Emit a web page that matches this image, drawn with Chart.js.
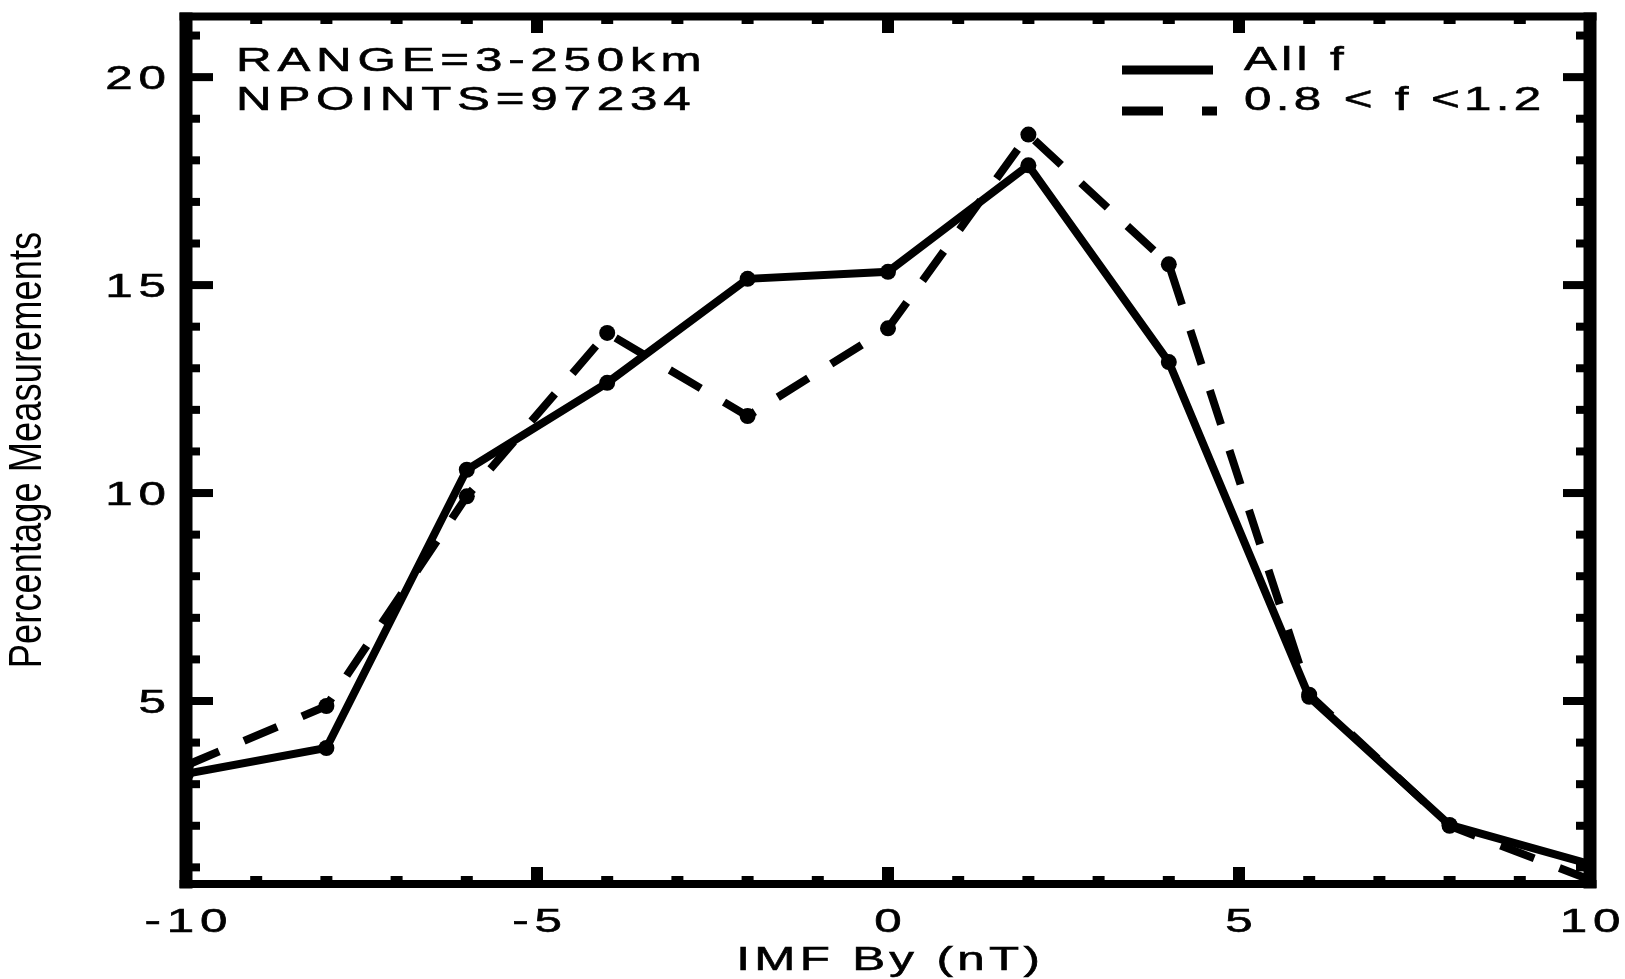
<!DOCTYPE html>
<html>
<head>
<meta charset="utf-8">
<script src="https://cdn.jsdelivr.net/npm/chart.js@4.4.1/dist/chart.umd.min.js"></script>
<style>
    html, body { margin: 0; padding: 0; background: #fff; }
    canvas { display: block; }
</style>
</head>
<body>
<canvas id="grafica-imf" width="1625" height="979"></canvas>
<script>
// Bins de IMF By (nT)
const byBins = [-10, -8, -6, -4, -2, 0, 2, 4, 6, 8, 10];
// Porcentaje de medidas, todas las frecuencias
const allF = [3.25, 3.87, 10.56, 12.65, 15.15, 15.32, 17.88, 13.15, 5.1, 2.02, 1.08];
// Porcentaje de medidas, 0.8 < f < 1.2
const midF = [3.45, 4.88, 9.92, 13.85, 11.85, 13.96, 18.62, 15.5, 5.15, 2.0, 0.7];

const xTickLabels = [-10, -5, 0, 5, 10];
const yTickLabels = [5, 10, 15, 20];
const seriesNames = ['All f', '0.8 < f <1.2'];
const infoLines = ['RANGE=3-250km', 'NPOINTS=97234'];
const xTitle = 'IMF By (nT)';
const yTitle = 'Percentage Measurements';

const FONT = "'Liberation Sans', Arial, Helvetica, sans-serif";
const DASH = [36, 27];

// texto ancho tipo IDL: letras estiradas y con espaciado
function wideText(ctx, str, x, y, opt = {}) {
    const size = opt.size || 34, sx = opt.sx || 1.45, gap = opt.gap ?? 4;
    ctx.save();
    ctx.font = size + 'px ' + FONT;
    ctx.fillStyle = '#000';
    ctx.strokeStyle = '#000';
    ctx.lineWidth = 0.6;
    ctx.textBaseline = 'alphabetic';
    ctx.textAlign = 'left';
    const chars = [...str];
    const widths = chars.map(c => ctx.measureText(c).width);
    const w = (widths.reduce((a, b) => a + b, 0) + gap * (chars.length - 1)) * sx;
    let x0 = x;
    if (opt.align === 'center') x0 = x - w / 2;
    else if (opt.align === 'right') x0 = x - w;
    ctx.translate(x0, y);
    ctx.scale(sx, 1);
    let cx = 0;
    chars.forEach((c, i) => {
        ctx.fillText(c, cx, 0);
        ctx.strokeText(c, cx, 0);
        cx += widths[i] + gap;
    });
    ctx.restore();
}

const marcoIDL = {
    id: 'marcoIDL',
    afterDatasetsDraw(chart) {
        const ctx = chart.ctx;
        const { left, right, top, bottom } = chart.chartArea;
        const xs = chart.scales.x, ys = chart.scales.y;
        ctx.save();
        ctx.fillStyle = '#000';

        // marco
        ctx.fillRect(left - 6.5, top - 3.5, 13, bottom - top + 8);
        ctx.fillRect(right - 6.5, top - 3.5, 13, bottom - top + 8);
        ctx.fillRect(left - 6.5, top - 3.5, right - left + 13, 8);
        ctx.fillRect(left - 6.5, bottom - 4, right - left + 13, 8);

        // ticks hacia dentro
        xs.ticks.forEach(t => {
            const px = xs.getPixelForValue(t.value);
            const len = xTickLabels.includes(t.value) ? 17 : 8;
            ctx.fillRect(px - 6, bottom - len, 12, len);
            ctx.fillRect(px - 6, top, 12, len);
        });
        ys.ticks.forEach(t => {
            const py = ys.getPixelForValue(t.value);
            const len = yTickLabels.includes(t.value) ? 27 : 14;
            ctx.fillRect(left, py - 4, len, 8);
            ctx.fillRect(right - len, py - 4, len, 8);
        });
        ctx.restore();

        // etiquetas
        xTickLabels.forEach(v => {
            wideText(ctx, String(v), xs.getPixelForValue(v), bottom + 48, { align: 'center' });
        });
        yTickLabels.forEach(v => {
            wideText(ctx, String(v), left - 20, ys.getPixelForValue(v) + 12, { align: 'right' });
        });

        wideText(ctx, xTitle, (left + right) / 2, 970, { align: 'center', gap: 3 });

        ctx.save();
        ctx.fillStyle = '#000';
        ctx.font = '46px ' + FONT;
        ctx.textAlign = 'center';
        ctx.textBaseline = 'middle';
        ctx.translate(28, (top + bottom) / 2);
        ctx.rotate(-Math.PI / 2);
        ctx.scale(0.79, 1);
        ctx.fillText(yTitle, 0, 0);
        ctx.restore();

        // texto informativo
        wideText(ctx, infoLines[0], 236, 71);
        wideText(ctx, infoLines[1], 236, 110);

        // leyenda
        ctx.save();
        ctx.strokeStyle = '#000';
        ctx.lineWidth = 9;
        ctx.beginPath();
        ctx.moveTo(1122, 70);
        ctx.lineTo(1213, 70);
        ctx.stroke();
        ctx.setLineDash([41, 39]);
        ctx.beginPath();
        ctx.moveTo(1122, 111);
        ctx.lineTo(1217, 111);
        ctx.stroke();
        ctx.restore();
        wideText(ctx, chart.data.datasets[0].label, 1244, 70, { gap: 3 });
        wideText(ctx, chart.data.datasets[1].label, 1244, 110, { gap: 3 });
    }
};

const enteros = (a, b) => Array.from({ length: b - a + 1 }, (_, i) => ({ value: a + i }));

new Chart(document.getElementById('grafica-imf'), {
    type: 'line',
    data: {
        datasets: [
            {
                label: seriesNames[0],
                data: byBins.map((x, i) => ({ x, y: allF[i] })),
                borderColor: '#000',
                backgroundColor: '#000',
                borderWidth: 8,
                pointRadius: 8,
                pointBorderWidth: 0,
                pointBackgroundColor: '#000',
                tension: 0
            },
            {
                label: seriesNames[1],
                data: byBins.map((x, i) => ({ x, y: midF[i] })),
                borderColor: '#000',
                backgroundColor: '#000',
                borderWidth: 8,
                borderDash: DASH,
                pointRadius: 8,
                pointBorderWidth: 0,
                pointBackgroundColor: '#000',
                tension: 0
            }
        ]
    },
    options: {
        responsive: false,
        animation: false,
        layout: { padding: { top: 16, right: 35, left: 0, bottom: 0 } },
        plugins: {
            legend: { display: false },
            tooltip: { enabled: false }
        },
        scales: {
            x: {
                type: 'linear',
                min: -10,
                max: 10,
                grid: { display: false },
                border: { display: false },
                ticks: { display: false },
                afterBuildTicks: s => { s.ticks = enteros(-10, 10); },
                afterFit: s => { s.height = 95; }
            },
            y: {
                type: 'linear',
                min: 0.6,
                max: 21.47,
                grid: { display: false },
                border: { display: false },
                ticks: { display: false },
                afterBuildTicks: s => { s.ticks = enteros(1, 21); },
                afterFit: s => { s.width = 186; }
            }
        }
    },
    plugins: [marcoIDL]
});
</script>
</body>
</html>
